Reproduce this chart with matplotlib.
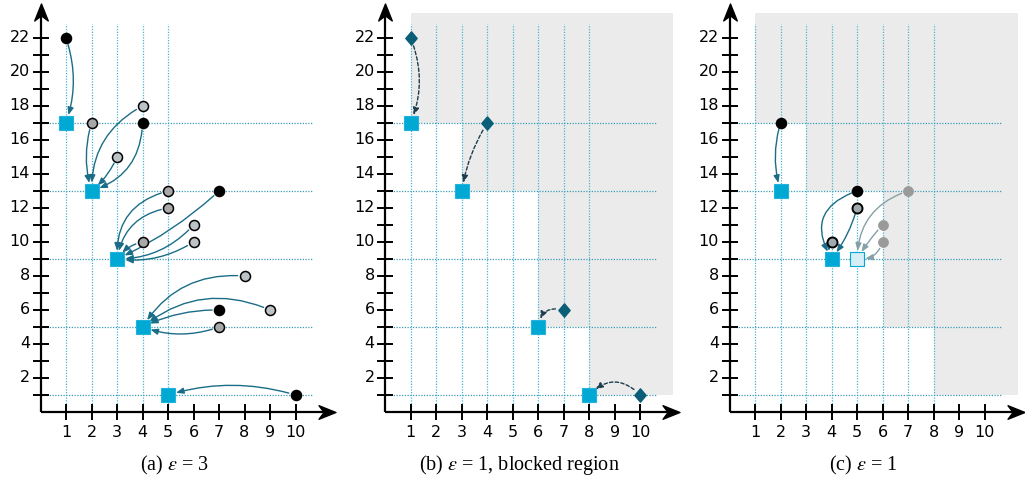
import matplotlib
matplotlib.use('Agg')
import matplotlib.pyplot as plt
from matplotlib.patches import FancyArrowPatch, Polygon
from matplotlib.path import Path

plt.rcParams['mathtext.fontset'] = 'stix'

# ---------------- data ----------------
x_ticks = list(range(1, 11))
y_ticks = list(range(1, 23))
y_tick_labels = list(range(2, 23, 2))
h_levels = [17, 13, 9, 5, 1]

captions = ['(a) $\\varepsilon$ = 3', '(b) $\\varepsilon$ = 1, blocked region', '(c) $\\varepsilon$ = 1']

# panel (a)
a_vlines = [1, 2, 3, 4, 5]
a_square_x = [1, 2, 3, 4, 5]
a_square_y = [17, 13, 9, 5, 1]
a_black_x = [1, 4, 7, 7, 10]
a_black_y = [22, 17, 13, 6, 1]
a_gray_dark_x = [2, 5, 5, 4, 7]
a_gray_dark_y = [17, 13, 12, 10, 5]
a_gray_light_x = [4, 3, 6, 6, 8, 9]
a_gray_light_y = [18, 15, 11, 10, 8, 6]
# (from x, from y, to x, to y, curvature)
a_arrows = [
    (1, 22, 1, 17, -0.17),
    (2, 17, 2, 13, 0.15),
    (4, 18, 2, 13, 0.3),
    (3, 15, 2, 13, -0.12),
    (4, 17, 2, 13, -0.35),
    (5, 13, 3, 9, 0.4),
    (5, 12, 3, 9, 0.35),
    (7, 13, 3, 9, -0.08),
    (6, 11, 3, 9, -0.22),
    (6, 10, 3, 9, -0.18),
    (4, 10, 3, 9, 0.2),
    (8, 8, 4, 5, 0.3),
    (9, 6, 4, 5, 0.3),
    (7, 6, 4, 5, 0.12),
    (7, 5, 4, 5, -0.18),
    (10, 1, 5, 1, 0.15),
]

# panel (b)
bc_vlines = [1, 2, 3, 4, 5, 6, 7, 8]
block_x = [1, 11.3, 11.3, 8, 8, 6, 6, 3, 3, 1]
block_y = [23.5, 23.5, 1, 1, 5, 5, 13, 13, 17, 17]
b_square_x = [1, 3, 6, 8]
b_square_y = [17, 13, 5, 1]
b_diamond_x = [1, 4, 7, 10]
b_diamond_y = [22, 17, 6, 1]
b_arrows = [
    (1, 22, 1, 17, -0.2),
    (4, 17, 3, 13, 0.1),
    (7, 6, 6, 5, 0.55),
    (10, 1, 8, 1, 0.5),
]

# panel (c)
c_square_x = [2, 4]
c_square_y = [13, 9]
c_light_square_x = [5]
c_light_square_y = [9]
c_black_x = [2, 5]
c_black_y = [17, 13]
c_edged_gray_x = [5, 4]
c_edged_gray_y = [12, 10]
c_faded_x = [7, 6, 6]
c_faded_y = [13, 11, 10]
c_arrows = [
    (2, 17, 2, 13, 0.15),
    (5, 13, 4, 9, 0.6),
    (5, 12, 4, 9, -0.1),
    (4, 10, 4, 9, 0.3),
]
c_faded_arrows = [
    (7, 13, 5, 9, 0.35),
    (6, 11, 5, 9, 0.05),
    (6, 10, 5, 9, -0.4),
]

# ---------------- style ----------------
SQ = '#00a8d4'
TEAL = '#1b6d87'
DIAM = '#0b5e78'
DASH = '#1d3d4c'
FADE = '#86a0a8'
GRID = '#48b6d2'
BLOCK = '#ebebeb'

W, H = 1025, 482
fig = plt.figure(figsize=(W / 100, H / 100), dpi=100)

PX_X = 25.5
PX_Y = 17.0
XMIN, XMAX = -1.55, 11.6
YMIN, YMAX = -3.5, 24.2
origins = [40.5, 385.2, 729.5]
y0_px = 412.0

stealth_r = Path([(1, 0), (-1, 0.8), (-0.4, 0), (-1, -0.8), (1, 0)],
                 [Path.MOVETO, Path.LINETO, Path.LINETO, Path.LINETO, Path.CLOSEPOLY])
stealth_u = Path([(0, 1), (0.8, -1), (0, -0.4), (-0.8, -1), (0, 1)],
                 [Path.MOVETO, Path.LINETO, Path.LINETO, Path.LINETO, Path.CLOSEPOLY])
diamond = Path([(0, 1), (0.85, 0), (0, -1), (-0.85, 0), (0, 1)],
               [Path.MOVETO, Path.LINETO, Path.LINETO, Path.LINETO, Path.CLOSEPOLY])


def make_ax(x0):
    left = x0 + XMIN * PX_X
    width = (XMAX - XMIN) * PX_X
    bottom = H - (y0_px - YMIN * PX_Y)
    height = (YMAX - YMIN) * PX_Y
    ax = fig.add_axes([left / W, bottom / H, width / W, height / H])
    ax.set_xlim(XMIN, XMAX)
    ax.set_ylim(YMIN, YMAX)
    ax.set_axis_off()
    return ax


def draw_frame(ax, vlines, caption):
    for v in vlines:
        ax.plot([v, v], [0, 22.8], color=GRID, lw=0.9, ls=(0, (1, 1.2)), zorder=1)
    for h in h_levels:
        ax.plot([0, 10.66], [h, h], color='#3a9db8', lw=0.9, ls=(0, (1, 1.2)), zorder=1)
    # axes
    ax.plot([0, 11.2], [0, 0], color='black', lw=1.6, zorder=2, solid_capstyle='butt')
    ax.plot([0, 0], [0, 23.6], color='black', lw=1.6, zorder=2, solid_capstyle='butt')
    ax.plot([11.55 - 8.5 / PX_X], [0], marker=stealth_r, ms=12.2, color='black',
            zorder=2, clip_on=False)
    ax.plot([0], [24.05 - 8.5 / PX_Y], marker=stealth_u, ms=12.2, color='black',
            zorder=2, clip_on=False)
    ax.vlines(x_ticks, -8 / PX_Y, 8 / PX_Y, color='black', lw=1.4, zorder=2)
    ax.hlines(y_ticks, -8 / PX_X, 8 / PX_X, color='black', lw=1.4, zorder=2)
    for t in x_ticks:
        ax.text(t, -13 / PX_Y, str(t), ha='center', va='top', fontsize=11.5)
    for t in y_tick_labels:
        ax.text(-10.5 / PX_X, t, str(t), ha='right', va='center', fontsize=11.5)
    ax.text(5.25, -3.12, caption, ha='center', va='center', fontsize=14.5,
            family='Liberation Serif')


def arrow(ax, a, color, ls='-', shrinkA=5, shrinkB=6, lw=1.0):
    x0, y0, x1, y1, rad = a
    p = FancyArrowPatch((x0, y0), (x1, y1), connectionstyle=f'arc3,rad={rad}',
                        arrowstyle='-|>,head_length=0.55,head_width=0.22',
                        mutation_scale=8, color=color, lw=lw, linestyle=ls,
                        shrinkA=shrinkA, shrinkB=shrinkB, zorder=3)
    ax.add_patch(p)


def squares(ax, xs, ys, face=SQ, edge='#22b3dc'):
    ax.plot(xs, ys, 's', ms=10, mfc=face, mec=edge, mew=0.8, ls='none', zorder=4)


def circles(ax, xs, ys, face, edge='black', mew=1.1):
    ax.plot(xs, ys, 'o', ms=7.2, mfc=face, mec=edge, mew=mew, ls='none', zorder=4)


# ---------------- panel (a) ----------------
axa = make_ax(origins[0])
draw_frame(axa, a_vlines, captions[0])
for a in a_arrows:
    arrow(axa, a, TEAL)
squares(axa, a_square_x, a_square_y)
circles(axa, a_black_x, a_black_y, 'black')
circles(axa, a_gray_dark_x, a_gray_dark_y, '#a8a8a8')
circles(axa, a_gray_light_x, a_gray_light_y, '#bcc3c7')

# ---------------- panel (b) ----------------
axb = make_ax(origins[1])
axb.add_patch(Polygon(list(zip(block_x, block_y)), closed=True, facecolor=BLOCK,
                      edgecolor='none', zorder=0, clip_on=False))
draw_frame(axb, bc_vlines, captions[1])
for a in b_arrows:
    arrow(axb, a, DASH, ls=(0, (2.5, 1.6)), shrinkA=6, shrinkB=6, lw=1.0)
squares(axb, b_square_x, b_square_y)
axb.plot(b_diamond_x, b_diamond_y, marker=diamond, ms=9.6, color=DIAM, ls='none',
         zorder=4, clip_on=False)

# ---------------- panel (c) ----------------
axc = make_ax(origins[2])
axc.add_patch(Polygon(list(zip(block_x, block_y)), closed=True, facecolor=BLOCK,
                      edgecolor='none', zorder=0, clip_on=False))
draw_frame(axc, bc_vlines, captions[2])
for a in c_arrows:
    arrow(axc, a, TEAL, shrinkA=4)
for a in c_faded_arrows:
    arrow(axc, a, FADE)
squares(axc, c_square_x, c_square_y)
squares(axc, c_light_square_x, c_light_square_y, face='#d6eef5', edge=SQ)
circles(axc, c_black_x, c_black_y, 'black')
circles(axc, c_edged_gray_x, c_edged_gray_y, '#9eaab0', mew=1.4)
circles(axc, c_faded_x, c_faded_y, '#9a9a9a', edge='#9a9a9a', mew=0.5)

fig.savefig('out.png', dpi=100)
